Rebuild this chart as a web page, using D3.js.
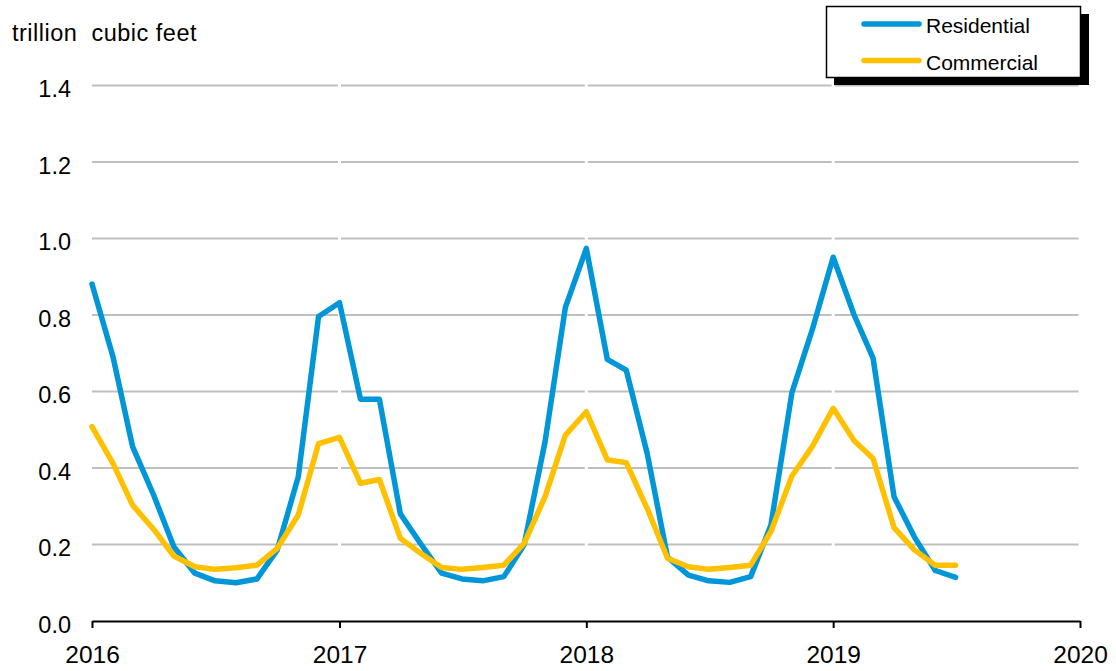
<!DOCTYPE html>
<html>
<head>
<meta charset="utf-8">
<script src="https://cdn.jsdelivr.net/npm/d3@7"></script>
<style>
  body { margin: 0; background: #fff; }
  text { font-family: "Liberation Sans", Arial, sans-serif; fill: #000; }
</style>
</head>
<body>
<div id="chart"></div>
<script>
// monthly values, Jan 2016 - Jul 2019
const residential = [0.881, 0.691, 0.456, 0.330, 0.194, 0.125, 0.105, 0.100, 0.110, 0.186, 0.377, 0.796,
                     0.832, 0.580, 0.580, 0.280, 0.202, 0.125, 0.110, 0.105, 0.116, 0.199, 0.469, 0.820,
                     0.974, 0.684, 0.656, 0.438, 0.167, 0.120, 0.105, 0.101, 0.116, 0.251, 0.597, 0.761,
                     0.951, 0.800, 0.687, 0.325, 0.220, 0.132, 0.114];
const commercial = [0.508, 0.412, 0.303, 0.240, 0.170, 0.142, 0.135, 0.139, 0.146, 0.190, 0.277, 0.464,
                    0.480, 0.360, 0.370, 0.216, 0.177, 0.140, 0.135, 0.140, 0.146, 0.203, 0.325, 0.486,
                    0.547, 0.421, 0.414, 0.294, 0.164, 0.142, 0.135, 0.140, 0.146, 0.234, 0.379, 0.456,
                    0.556, 0.471, 0.425, 0.244, 0.186, 0.146, 0.146];
const months = d3.timeMonth.range(new Date(2016, 0, 1), new Date(2019, 7, 1));
const years = [2016, 2017, 2018, 2019, 2020];
const yTicks = [0, 0.2, 0.4, 0.6, 0.8, 1.0, 1.2, 1.4];
const series = [
  {name: "Residential", values: residential, color: "#0096D7"},
  {name: "Commercial", values: commercial, color: "#FFC000"}
];

const W = 1116, H = 671;
const margin = {top: 85.5, right: 36, bottom: 50, left: 92};

const svg = d3.select("#chart").append("svg")
    .attr("width", W)
    .attr("height", H);

const x = d3.scaleTime()
    .domain([new Date(2016, 0, 1), new Date(2020, 0, 1)])
    .range([margin.left, W - margin.right]);
const y = d3.scaleLinear()
    .domain([0, 1.4])
    .range([H - margin.bottom, margin.top]);

// gridlines, broken at each year
const gridG = svg.append("g");
yTicks.filter(d => d > 0).forEach(v => {
  for (let i = 0; i < years.length - 1; i++) {
    gridG.append("line")
      .attr("x1", x(new Date(years[i], 0, 1)) + (i == 0 ? 0 : 1.5))
      .attr("x2", x(new Date(years[i + 1], 0, 1)) - 1.5)
      .attr("y1", y(v)).attr("y2", y(v))
      .attr("stroke", "#BFBFBF")
      .attr("stroke-width", 2);
  }
});

// y tick labels
svg.append("g").selectAll("text")
  .data(yTicks)
  .join("text")
    .attr("x", 71)
    .attr("y", d => y(d) + 11.5)
    .attr("text-anchor", "end")
    .attr("font-size", 23.5)
    .text(d => d3.format(".1f")(d));

// x axis
const xAxis = d3.axisBottom(x)
    .tickValues(years.map(yr => new Date(yr, 0, 1)))
    .tickFormat(d3.timeFormat("%Y"))
    .tickSize(7)
    .tickSizeOuter(0);
const xg = svg.append("g")
    .attr("transform", "translate(0," + y(0) + ")")
    .call(xAxis);
xg.select(".domain").attr("stroke", "#000").attr("stroke-width", 2);
xg.selectAll(".tick line").attr("stroke", "#000").attr("stroke-width", 2);
xg.selectAll(".tick text")
    .attr("font-size", 24.5)
    .attr("font-family", "Liberation Sans, Arial, sans-serif")
    .attr("fill", "#000")
    .attr("dy", null)
    .attr("y", 42);

// lines
const line = d3.line()
    .x((d, i) => x(months[i]))
    .y(d => y(d));
svg.append("g").selectAll("path")
  .data(series)
  .join("path")
    .attr("d", d => line(d.values))
    .attr("fill", "none")
    .attr("stroke", d => d.color)
    .attr("stroke-width", 5.5)
    .attr("stroke-linejoin", "round")
    .attr("stroke-linecap", "round");

// axis title
svg.append("text")
    .attr("x", 12)
    .attr("y", 40.5)
    .attr("font-size", 23.5)
    .attr("letter-spacing", 0.5)
    .style("white-space", "pre")
    .text("trillion  cubic feet");

// legend
const legend = svg.append("g");
legend.append("rect")
    .attr("x", 834).attr("y", 14)
    .attr("width", 255).attr("height", 71)
    .attr("fill", "#000");
legend.append("rect")
    .attr("x", 826.5).attr("y", 6.5)
    .attr("width", 254).attr("height", 71)
    .attr("fill", "#fff")
    .attr("stroke", "#000")
    .attr("stroke-width", 1.5);
series.forEach((s, i) => {
  const ly = 24 + i * 36.5;
  legend.append("line")
    .attr("x1", 864).attr("x2", 919)
    .attr("y1", ly).attr("y2", ly)
    .attr("stroke", s.color)
    .attr("stroke-width", 5.5)
    .attr("stroke-linecap", "round");
  legend.append("text")
    .attr("x", 926)
    .attr("y", ly + 9)
    .attr("font-size", 21)
    .text(s.name);
});
</script>
</body>
</html>
